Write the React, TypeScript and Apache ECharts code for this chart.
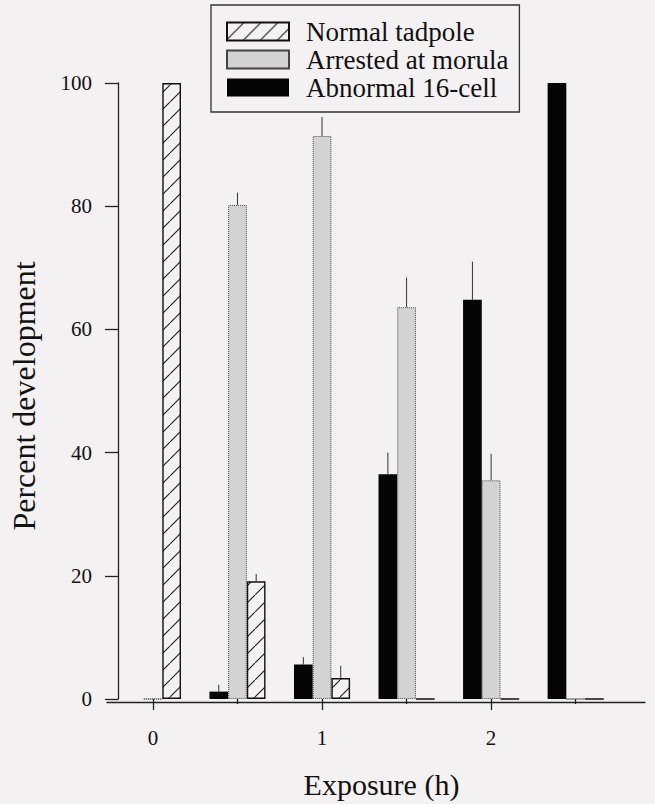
import React, { useEffect, useRef } from 'react';
import * as echarts from 'echarts';

// Exposure times (h) of each bar group
const exposures = [0, 0.5, 1, 1.5, 2, 2.5];
// x-axis: labelled major ticks and unlabelled minor ticks
const majorTicks = [0, 1, 2];
const minorTicks = [0.5, 1.5, 2.5];

// Percent development per exposure time
const abnormal16Cell = [0, 1.2, 5.6, 36.5, 64.8, 100];
const abnormal16CellErr = [0, 1.1, 1.2, 3.5, 6.2, 0];
const arrestedMorula = [0, 80.2, 91.4, 63.6, 35.5, 0];
const arrestedMorulaErr = [0, 2.0, 3.1, 4.8, 4.3, 0];
const normalTadpole = [100, 19.1, 3.4, 0, 0, 0];
const normalTadpoleErr = [0, 1.2, 2.0, 0, 0, 0];

const seriesNames = ['Normal tadpole', 'Arrested at morula', 'Abnormal 16-cell'];

const BG = '#f3f1f1';
const FONT = 'Liberation Serif';
const BAR_W = 18.7;
const X_MIN = -0.2066;
const X_MAX = 2.91;

export default function App() {
  const ref = useRef<HTMLDivElement>(null);

  useEffect(() => {
    if (!ref.current) return;
    document.body.style.margin = '0';
    const chart = echarts.init(ref.current, null, { renderer: 'svg' });

    // diagonal hatch pattern
    const s = 17;
    const c = document.createElement('canvas');
    c.width = s;
    c.height = s;
    const ctx = c.getContext('2d')!;
    ctx.fillStyle = BG;
    ctx.fillRect(0, 0, s, s);
    ctx.strokeStyle = '#1a1a1a';
    ctx.lineWidth = 1.1;
    ctx.beginPath();
    ctx.moveTo(-2, s + 2);
    ctx.lineTo(s + 2, -2);
    ctx.stroke();
    const hatch = { image: c.toDataURL(), repeat: 'repeat', imageWidth: s, imageHeight: s };

    const pairs = (vals: number[]) => exposures.map((x, i) => [x, vals[i]]);

    const errData: number[][] = [];
    const addErr = (vals: number[], errs: number[], slot: number) => {
      exposures.forEach((x, i) => {
        if (errs[i] > 0) errData.push([x, vals[i], vals[i] + errs[i], slot]);
      });
    };
    addErr(abnormal16Cell, abnormal16CellErr, -1);
    addErr(arrestedMorula, arrestedMorulaErr, 0);
    addErr(normalTadpole, normalTadpoleErr, 1);

    const axisLineStyle = { color: '#222', width: 1.3 };

    chart.setOption({
      animation: false,
      backgroundColor: BG,
      textStyle: { fontFamily: FONT },
      grid: [
        { left: 117, right: 10, top: 83, bottom: 102 },
        { left: 107, right: 10, top: 83, bottom: 102 },
      ],
      legend: {
        data: seriesNames,
        orient: 'vertical',
        left: 211,
        top: 5,
        padding: [13, 11, 11, 15],
        itemGap: 1,
        itemWidth: 62,
        itemHeight: 18,
        icon: 'rect',
        borderColor: '#333',
        borderWidth: 1.3,
        formatter: '{t|{name}}',
        textStyle: {
          fontFamily: FONT,
          fontSize: 27,
          color: '#111',
          rich: {
            t: {
              fontFamily: FONT,
              fontSize: 27,
              lineHeight: 27.5,
              color: '#111',
              padding: [0, 0, 0, 12],
            },
          },
        },
      },
      xAxis: [
        {
          type: 'value',
          gridIndex: 0,
          min: X_MIN,
          max: X_MAX,
          name: 'Exposure (h)',
          nameLocation: 'middle',
          nameGap: 70,
          nameTextStyle: { fontFamily: FONT, fontSize: 30, color: '#111' },
          splitLine: { show: false },
          axisLine: { show: false, onZero: false },
          axisTick: { show: true, length: 11, customValues: majorTicks, lineStyle: axisLineStyle },
          axisLabel: {
            customValues: majorTicks,
            margin: 28,
            fontFamily: FONT,
            fontSize: 21,
            color: '#111',
          },
        },
        {
          type: 'value',
          gridIndex: 0,
          position: 'bottom',
          min: X_MIN,
          max: X_MAX,
          splitLine: { show: false },
          axisLine: { show: false, onZero: false },
          axisTick: { show: true, length: 5, customValues: minorTicks, lineStyle: axisLineStyle },
          axisLabel: { show: false },
        },
        {
          type: 'value',
          gridIndex: 1,
          min: 0,
          max: 1,
          splitLine: { show: false },
          axisLine: { show: true, onZero: false, lineStyle: axisLineStyle },
          axisTick: { show: false },
          axisLabel: { show: false },
        },
        {
          // hidden helper axis whose zero sits on the left edge of the plot
          type: 'value',
          gridIndex: 0,
          position: 'top',
          min: 0,
          max: 1,
          show: false,
        },
      ],
      yAxis: [
        {
          type: 'value',
          gridIndex: 0,
          position: 'left',
          min: 0,
          max: 100,
          interval: 20,
          name: 'Percent development',
          nameLocation: 'middle',
          nameGap: 78,
          nameTextStyle: { fontFamily: FONT, fontSize: 32, color: '#111', padding: [0, 10, 0, 0] },
          splitLine: { show: false },
          axisLine: { show: true, onZero: true, onZeroAxisIndex: 3, lineStyle: axisLineStyle },
          axisTick: { show: true, inside: false, length: 13, lineStyle: axisLineStyle },
          axisLabel: { margin: 26, fontFamily: FONT, fontSize: 21, color: '#111' },
        },
        {
          type: 'value',
          gridIndex: 1,
          show: false,
          min: 0,
          max: 1,
        },
      ],
      series: [
        {
          name: 'Abnormal 16-cell',
          type: 'bar',
          barWidth: BAR_W,
          barGap: '0%',
          data: pairs(abnormal16Cell),
          itemStyle: { color: '#050505', borderWidth: 0 },
        },
        {
          name: 'Arrested at morula',
          type: 'bar',
          barWidth: BAR_W,
          barGap: '0%',
          data: pairs(arrestedMorula),
          itemStyle: {
            color: '#d3d3d3',
            borderColor: '#444',
            borderWidth: 1,
            borderType: 'dotted',
          },
        },
        {
          name: 'Normal tadpole',
          type: 'bar',
          barWidth: BAR_W,
          barGap: '0%',
          data: pairs(normalTadpole),
          itemStyle: { color: hatch, borderColor: '#111', borderWidth: 1.4 },
        },
        {
          name: 'errors',
          type: 'custom',
          clip: false,
          data: errData,
          renderItem: (params: any, api: any) => {
            const x = api.value(0);
            const p0 = api.coord([x, api.value(1)]);
            const p1 = api.coord([x, api.value(2)]);
            const dx = api.value(3) * BAR_W;
            return {
              type: 'line',
              shape: { x1: p0[0] + dx, y1: p0[1], x2: p1[0] + dx, y2: p1[1] },
              style: { stroke: '#333', lineWidth: 1 },
            };
          },
        },
      ],
    });

    return () => chart.dispose();
  }, []);

  return (
    <div
      ref={ref}
      style={{ position: 'absolute', left: 0, top: 0, width: 655, height: 804 }}
    />
  );
}
